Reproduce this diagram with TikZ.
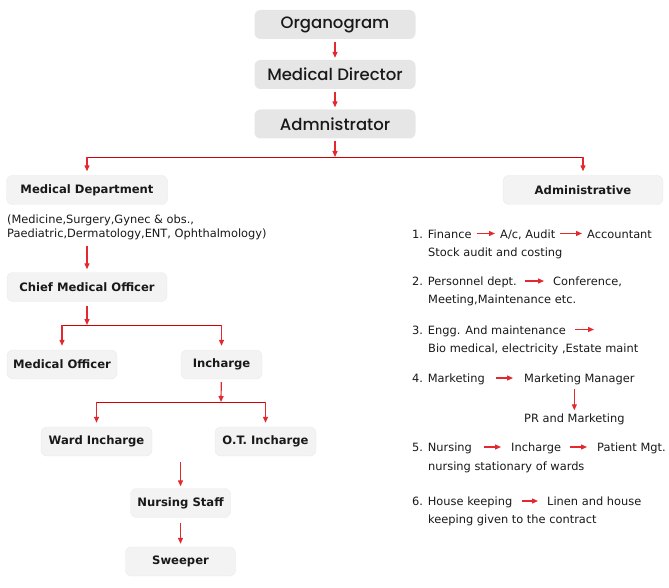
\documentclass[tikz,border=0pt]{standalone}
\usepackage{fontspec}
\setmainfont{DejaVu Sans}
\newfontfamily\headfont{Poppins}[UprightFont = * Medium]
\usepackage{xcolor}
\usetikzlibrary{arrows.meta, positioning, calc}
\definecolor{topgray}{RGB}{230,230,230}
\definecolor{boxgray}{RGB}{243,243,243}
\definecolor{boxline}{RGB}{234,234,234}
\definecolor{arrowred}{RGB}{228,40,48}
\definecolor{linered}{RGB}{204,0,0}
\definecolor{inkgray}{RGB}{25,25,25}

\begin{document}
\begin{tikzpicture}[x=1pt, y=-1pt,
    top/.style={rectangle, fill=topgray, rounded corners=6pt,
                minimum width=161pt, minimum height=29pt, inner sep=0pt,
                font=\headfont\fontsize{16.5}{16.5}\selectfont, text=inkgray},
    unit/.style={rectangle, draw=boxline, fill=boxgray, rounded corners=6pt,
                minimum width=#1, minimum height=29pt, inner sep=0pt,
                font=\bfseries\fontsize{11.6}{11.6}\selectfont, text=inkgray},
    item/.style={anchor=base west, inner sep=0pt, text height=9pt, text depth=0pt,
                font=\fontsize{11.4}{11.4}\selectfont, text=inkgray},
    conn/.style={-{Triangle[length=6pt, width=5pt]}, draw=arrowred, line width=1.2pt},
    split/.style={draw=linered, line width=0.9pt},
    tip/.style={-{Triangle[length=6pt, width=5pt]}, draw=arrowred, line width=1.2pt,
                shorten <=8pt, shorten >=6pt}
]
    \useasboundingbox (0,0) rectangle (669,588);

    % top chain
    \node[top] (org) at (335,24.5) {Organogram};
    \node[top] (md) at (335,74.5) {Medical Director};
    \node[top] (adm) at (335,124) {Admnistrator};
    \draw[conn, shorten <=3pt, shorten >=2pt] (org) -- (md);
    \draw[conn, shorten <=3pt, shorten >=2pt] (md) -- (adm);

    % branches
    \node[unit=161pt] (meddept) at (87,190) {Medical Department};
    \node[unit=160pt] (admin) at (583,190) {Administrative};
    \coordinate (hub) at (335,157);
    \draw[conn, shorten <=2pt] (adm) -- (hub);
    \draw[split] (meddept.north |- hub) -- (admin.north |- hub);
    \draw[conn, shorten >=4pt] (hub -| meddept.north) -- (meddept.north);
    \draw[conn, shorten >=4pt] (hub -| admin.north) -- (admin.north);

    % medical side
    \node[anchor=base west, inner sep=0pt, align=left, text=inkgray,
          font=\fontsize{11.4}{14.5}\selectfont] (deptlist) at (7,237.5)
        {(Medicine,Surgery,Gynec \& obs.,\\Paediatric,Dermatology,ENT, Ophthalmology)};
    \node[unit=160pt] (cmo) at (87,287) {Chief Medical Officer};
    \draw[conn, shorten <=6pt, shorten >=3pt] (cmo.north |- deptlist.south) -- (cmo.north);

    \node[unit=110pt] (mo) at (62,364.5) {Medical Officer};
    \node[unit=81pt] (inch) at (221.5,364.5) {Incharge};
    \coordinate (cmohub) at (87,325);
    \draw[conn, shorten <=4pt] (cmo) -- (cmohub);
    \draw[split] (cmohub -| mo.north) -- (cmohub -| inch.north);
    \draw[conn, shorten >=4pt] (cmohub -| mo.north) -- (mo.north);
    \draw[conn, shorten >=4pt] (cmohub -| inch.north) -- (inch.north);

    \node[unit=111pt] (ward) at (96.5,441.5) {Ward Incharge};
    \node[unit=101pt] (ot) at (265.5,441.5) {O.T. Incharge};
    \coordinate (inchub) at (221,402);
    \draw[conn, shorten <=3pt] (inch) -- (inchub);
    \draw[split] (inchub -| ward.north) -- (inchub -| ot.north);
    \draw[conn, shorten >=4pt] (inchub -| ward.north) -- (ward.north);
    \draw[conn, shorten >=4pt] (inchub -| ot.north) -- (ot.north);

    \node[unit=100pt] (staff) at (180.5,503) {Nursing Staff};
    \node[unit=110pt] (sweep) at (180.5,561.5) {Sweeper};
    \draw[conn, shorten <=6pt, shorten >=2pt] (staff.north |- ward.south) -- (staff.north);
    \draw[conn, shorten <=5pt, shorten >=3pt] (staff) -- (sweep);

    % administrative side
    \node[item] (fin) at (412,238) {1. Finance};
    \node[item] (audit) at (500,238) {A/c, Audit};
    \node[item] (acct) at (587,238) {Accountant};
    \node[item] (stock) at (428,256.5) {Stock audit and costing};
    \draw[tip, shorten <=5pt, shorten >=5pt] (fin.east) -- (audit.west);
    \draw[tip, shorten <=5pt, shorten >=5pt] (audit.east) -- (acct.west);

    \node[item] (pers) at (412,285.5) {2. Personnel dept.};
    \node[item] (conf) at (553,285.5) {Conference,};
    \node[item] (meet) at (428,303.5) {Meeting,Maintenance etc.};
    \draw[tip, shorten >=9pt] (pers.east) -- (conf.west);

    \node[item] (engg) at (412,334) {3. Engg. And maintenance};
    \coordinate (enggend) at (594,329.5);
    \node[item] (bio) at (428,352) {Bio medical, electricity ,Estate maint};
    \draw[tip, shorten <=9pt, shorten >=0pt] (engg.east) -- (enggend);

    \node[item] (mkt) at (412,382.5) {4. Marketing};
    \node[item] (mgr) at (524,382.5) {Marketing Manager};
    \node[item] (pr) at (524,422.5) {PR and Marketing};
    \draw[tip, shorten <=11pt, shorten >=11pt] (mkt.east) -- (mgr.west);
    \draw[conn, shorten <=6pt, shorten >=3pt] (pr.north |- mgr.south) -- (pr.north);

    \node[item] (nurs) at (412,451.5) {5. Nursing};
    \node[item] (ninch) at (511,451.5) {Incharge};
    \node[item] (pat) at (597,451.5) {Patient Mgt.};
    \node[item] (stat) at (428,470) {nursing stationary of wards};
    \draw[tip, shorten <=12pt, shorten >=10pt] (nurs.east) -- (ninch.west);
    \draw[tip, shorten <=9pt, shorten >=10pt] (ninch.east) -- (pat.west);

    \node[item] (house) at (412,505.5) {6. House keeping};
    \node[item] (linen) at (547,505.5) {Linen and house};
    \node[item] (given) at (428,523.5) {keeping given to the contract};
    \draw[tip, shorten <=9pt, shorten >=9pt] (house.east) -- (linen.west);
\end{tikzpicture}
\end{document}
